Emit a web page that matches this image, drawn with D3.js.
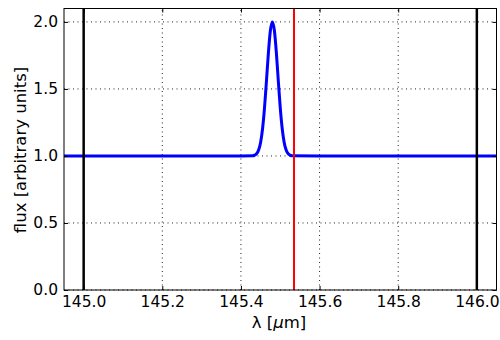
<!DOCTYPE html>
<html>
<head>
<meta charset="utf-8">
<script src="https://cdn.jsdelivr.net/npm/d3@7"></script>
<style>
  html, body { margin: 0; padding: 0; background: #fff; }
  svg { display: block; font-family: "DejaVu Sans", sans-serif; }
</style>
</head>
<body>
<svg id="chart" width="500" height="340"></svg>
<script>
// Spectrum: flat continuum with a single emission line
const wavelength = [144.95, 145.40, 145.430, 145.435, 145.440, 145.445, 145.450, 145.455, 145.460, 145.465,
  145.470, 145.475, 145.480, 145.485, 145.490, 145.495, 145.500, 145.505, 145.510, 145.515,
  145.520, 145.525, 145.530, 145.60, 146.05];
const flux = [1.0, 1.0, 1.001, 1.006, 1.017, 1.044, 1.101, 1.203, 1.360, 1.563,
  1.775, 1.938, 2.0, 1.938, 1.775, 1.563, 1.360, 1.203, 1.101, 1.044,
  1.017, 1.006, 1.001, 1.0, 1.0];

// Reference wavelengths marked by vertical lines
const boundaryLines = [145.0, 146.0];
const lineCentre = [145.535];

const xTicks = [145.0, 145.2, 145.4, 145.6, 145.8, 146.0];
const yTicks = [0.0, 0.5, 1.0, 1.5, 2.0];
const xDomain = [144.95, 146.05];
const yDomain = [0, 2.1];

const svg = d3.select("#chart");
const margin = { left: 64, right: 3.5, top: 8.5, bottom: 50 };
const W = 500, H = 340;

const x = d3.scaleLinear().domain(xDomain).range([margin.left, W - margin.right]);
const y = d3.scaleLinear().domain(yDomain).range([H - margin.bottom, margin.top]);

const g = svg.append("g");

// dotted grid
g.append("g").selectAll("line").data(xTicks).join("line")
  .attr("x1", d => x(d)).attr("x2", d => x(d))
  .attr("y1", y(yDomain[0])).attr("y2", y(yDomain[1]))
  .attr("stroke", "#222").attr("stroke-width", 1).attr("stroke-dasharray", "1,3.5");
g.append("g").selectAll("line").data(yTicks).join("line")
  .attr("x1", x(xDomain[0])).attr("x2", x(xDomain[1]))
  .attr("y1", d => y(d)).attr("y2", d => y(d))
  .attr("stroke", "#222").attr("stroke-width", 1).attr("stroke-dasharray", "1,3.5");

// spectrum
const line = d3.line().x((d, i) => x(wavelength[i])).y(d => y(d)).curve(d3.curveMonotoneX);
g.append("path").datum(flux)
  .attr("d", line)
  .attr("fill", "none").attr("stroke", "#0000ff").attr("stroke-width", 3)
  .attr("stroke-linejoin", "round");

// vertical markers
g.append("g").selectAll("line").data(boundaryLines).join("line")
  .attr("x1", d => x(d)).attr("x2", d => x(d))
  .attr("y1", y(yDomain[0])).attr("y2", y(yDomain[1]))
  .attr("stroke", "#000").attr("stroke-width", 2.5);
g.append("g").selectAll("line").data(lineCentre).join("line")
  .attr("x1", d => x(d)).attr("x2", d => x(d))
  .attr("y1", y(yDomain[0])).attr("y2", y(yDomain[1]))
  .attr("stroke", "#ff0000").attr("stroke-width", 2);

// axes with inward ticks
const fmt = d3.format(".1f");
const xAxisB = d3.axisBottom(x).tickValues(xTicks).tickFormat(fmt).tickSizeInner(-4).tickSizeOuter(0).tickPadding(6);
const xAxisT = d3.axisTop(x).tickValues(xTicks).tickFormat("").tickSizeInner(-4).tickSizeOuter(0);
const yAxisL = d3.axisLeft(y).tickValues(yTicks).tickFormat(fmt).tickSizeInner(-4).tickSizeOuter(0).tickPadding(6);
const yAxisR = d3.axisRight(y).tickValues(yTicks).tickFormat("").tickSizeInner(-4).tickSizeOuter(0);

function style(sel) {
  sel.select(".domain").remove();
  sel.selectAll("line").attr("stroke", "#000").attr("stroke-width", 1);
  sel.selectAll("text").attr("fill", "#000").style("font-size", "15.5px").style("font-family", "DejaVu Sans, sans-serif");
}
g.append("g").attr("transform", `translate(0,${y(yDomain[0])})`).call(xAxisB).call(style);
g.append("g").attr("transform", `translate(0,${y(yDomain[1])})`).call(xAxisT).call(style);
g.append("g").attr("transform", `translate(${x(xDomain[0])},0)`).call(yAxisL).call(style);
g.append("g").attr("transform", `translate(${x(xDomain[1])},0)`).call(yAxisR).call(style);

// frame
g.append("rect")
  .attr("x", x(xDomain[0])).attr("y", y(yDomain[1]))
  .attr("width", x(xDomain[1]) - x(xDomain[0])).attr("height", y(yDomain[0]) - y(yDomain[1]))
  .attr("fill", "none").attr("stroke", "#000").attr("stroke-width", 1);

// axis labels
const xl = svg.append("text")
  .attr("x", 279).attr("y", 328)
  .attr("text-anchor", "middle").style("font-size", "16.5px");
xl.append("tspan").text("λ [");
xl.append("tspan").style("font-style", "italic").text("μ");
xl.append("tspan").text("m]");
svg.append("text")
  .attr("transform", `translate(25.5,150) rotate(-90)`)
  .attr("text-anchor", "middle").style("font-size", "16.5px")
  .text("flux [arbitrary units]");
</script>
</body>
</html>
